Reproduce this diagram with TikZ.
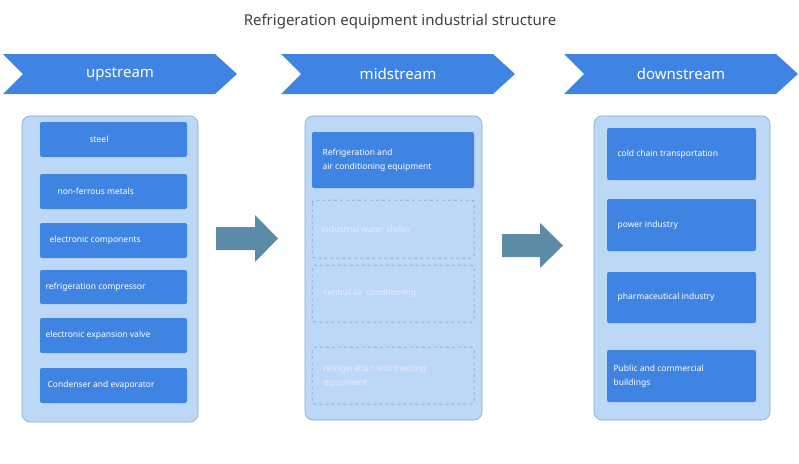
\documentclass[tikz,border=0pt]{standalone}
\usepackage{fontspec}
\setmainfont{Noto Sans}
\definecolor{panel}{HTML}{BDD8F6}
\definecolor{pborder}{HTML}{7FAADB}
\definecolor{item}{HTML}{3F84E3}
\definecolor{arr}{HTML}{5B8BA6}
\definecolor{titlec}{HTML}{404040}
\begin{document}
\begin{tikzpicture}[x=1pt,y=-1pt,
 panel/.style={draw=pborder,fill=panel,rounded corners=8pt,line width=0.6pt},
 item/.style={fill=item,rounded corners=2pt},
 ditem/.style={draw=pborder!80!black,dashed,rounded corners=3pt,line width=0.5pt},
 lbl/.style={font=\bfseries\fontsize{8.5}{11}\selectfont,text=white,anchor=west,align=left},
 dlbl/.style={font=\bfseries\fontsize{8.5}{11}\selectfont,text=white!92!blue,anchor=west,align=left},
 chev/.style={fill=item},
 clbl/.style={font=\bfseries\fontsize{15}{18}\selectfont,text=white},
 barrow/.style={fill=arr}]
\useasboundingbox (0,0) rectangle (799,463);
\node[font=\bfseries\fontsize{15}{18}\selectfont,text=titlec] (title) at (400,22) {Refrigeration equipment industrial structure};
% chevrons
\foreach \x/\n/\t in {3/c1/upstream,281/c2/midstream,564/c3/downstream}{
 \fill[chev] (\x,54) -- (\x+212,54) -- (\x+234,74) -- (\x+212,94) -- (\x,94) -- (\x+20,74) -- cycle;
 \node[clbl] (\n) at (\x+117,74) {\t};
}
% panels
\draw[panel] (22,116) rectangle (198,422);
\draw[panel] (305,116) rectangle (482,420);
\draw[panel] (594,116) rectangle (770,420);
% left items
\foreach \a/\b/\n/\t/\o in {122/157/l1/steel/46,174/209/l2/non-ferrous metals/14,223/258/l3/electronic components/6,270/304/l4/refrigeration compressor/2,318/353/l5/electronic expansion valve/2,368/403/l6/Condenser and evaporator/4}{
 \fill[item] (40,\a) rectangle (187,\b);
 \node[lbl] (\n) at (40+\o,{(\a+\b)/2}) {\t};
}
% mid
\fill[item] (312,132) rectangle (474,188);
\node[lbl] (m1) at (319,160) {Refrigeration and\\[3pt]air conditioning equipment};
\draw[ditem] (312,200) rectangle (474,258);
\node[dlbl] (m2) at (318,229) {industrial water chiller};
\draw[ditem] (312,265) rectangle (474,322);
\node[dlbl] (m3) at (320,293) {central air conditioning};
\draw[ditem] (312,347) rectangle (474,404);
\node[dlbl] (m4) at (320,376) {refrigeration and freezing\\[3pt]equipment};
% right
\foreach \a/\b/\n/\t in {128/180/r1/cold chain transportation,199/251/r2/power industry,272/323/r3/pharmaceutical industry}{
 \fill[item] (607,\a) rectangle (756,\b);
 \node[lbl] (\n) at (614,{(\a+\b)/2}) {\t};
}
\fill[item] (607,350) rectangle (756,402);
\node[lbl] (r4) at (610,376) {Public and commercial\\[3pt]buildings};
% block arrows
\fill[barrow] (216,227) -- (255,227) -- (255,215) -- (278,238.5) -- (255,262) -- (255,250) -- (216,250) -- cycle;
\fill[barrow] (502,234) -- (540,234) -- (540,223) -- (563,245.5) -- (540,268) -- (540,257) -- (502,257) -- cycle;
\end{tikzpicture}
\end{document}
